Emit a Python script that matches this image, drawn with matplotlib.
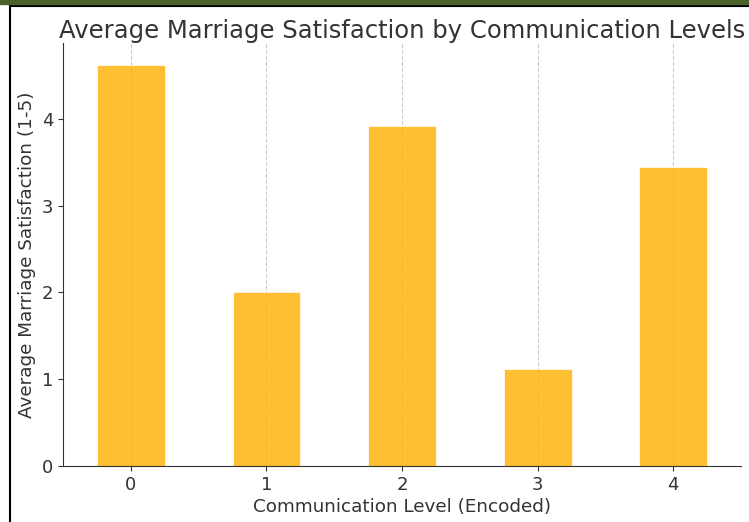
import matplotlib.pyplot as plt
from matplotlib.lines import Line2D
from matplotlib.patches import Rectangle

levels = [0, 1, 2, 3, 4]
satisfaction = [4.62, 2.0, 3.92, 1.12, 3.45]


def main():
    plt.rcParams["font.family"] = ["DejaVu Sans"]

    fig = plt.figure(figsize=(7.49, 5.22), dpi=100)
    ax = fig.add_axes([63 / 749, 1 - 466 / 522, (741 - 63) / 749, (466 - 43) / 522])

    ax.bar(levels, satisfaction, width=0.5, color="#FFB000", alpha=0.8,
           edgecolor="white", linewidth=0.6, zorder=2)

    ax.set_xlim(-0.5, 4.5)
    ax.set_ylim(0, 4.876)
    ax.set_xticks(levels)
    ax.set_yticks([0, 1, 2, 3, 4])
    ax.tick_params(labelsize=13, colors="#333333")
    ax.grid(True, axis="x", linestyle="--", color="#cccccc", linewidth=0.8, zorder=1)
    ax.set_axisbelow(True)

    for side in ["top", "right"]:
        ax.spines[side].set_visible(False)
    for side in ["left", "bottom"]:
        ax.spines[side].set_color("#333333")

    ax.set_xlabel("Communication Level (Encoded)", fontsize=13.2, color="#333333", labelpad=3)
    ax.set_ylabel("Average Marriage Satisfaction (1-5)", fontsize=13.2, color="#333333")
    ax.set_title("Average Marriage Satisfaction by Communication Levels",
                 fontsize=17.5, color="#333333", pad=3)

    # screenshot frame
    fig.patches.append(Rectangle((0, 1 - 4 / 522), 1, 4 / 522, transform=fig.transFigure,
                                 color="#4b6129", zorder=10))
    fig.lines.append(Line2D([9.5 / 749, 1], [1 - 5.5 / 522] * 2, transform=fig.transFigure,
                            color="black", linewidth=1.5))
    fig.lines.append(Line2D([9.5 / 749] * 2, [0, 1 - 5.5 / 522], transform=fig.transFigure,
                            color="black", linewidth=1.5))

    fig.savefig("out.png", dpi=100)


if __name__ == "__main__":
    main()
